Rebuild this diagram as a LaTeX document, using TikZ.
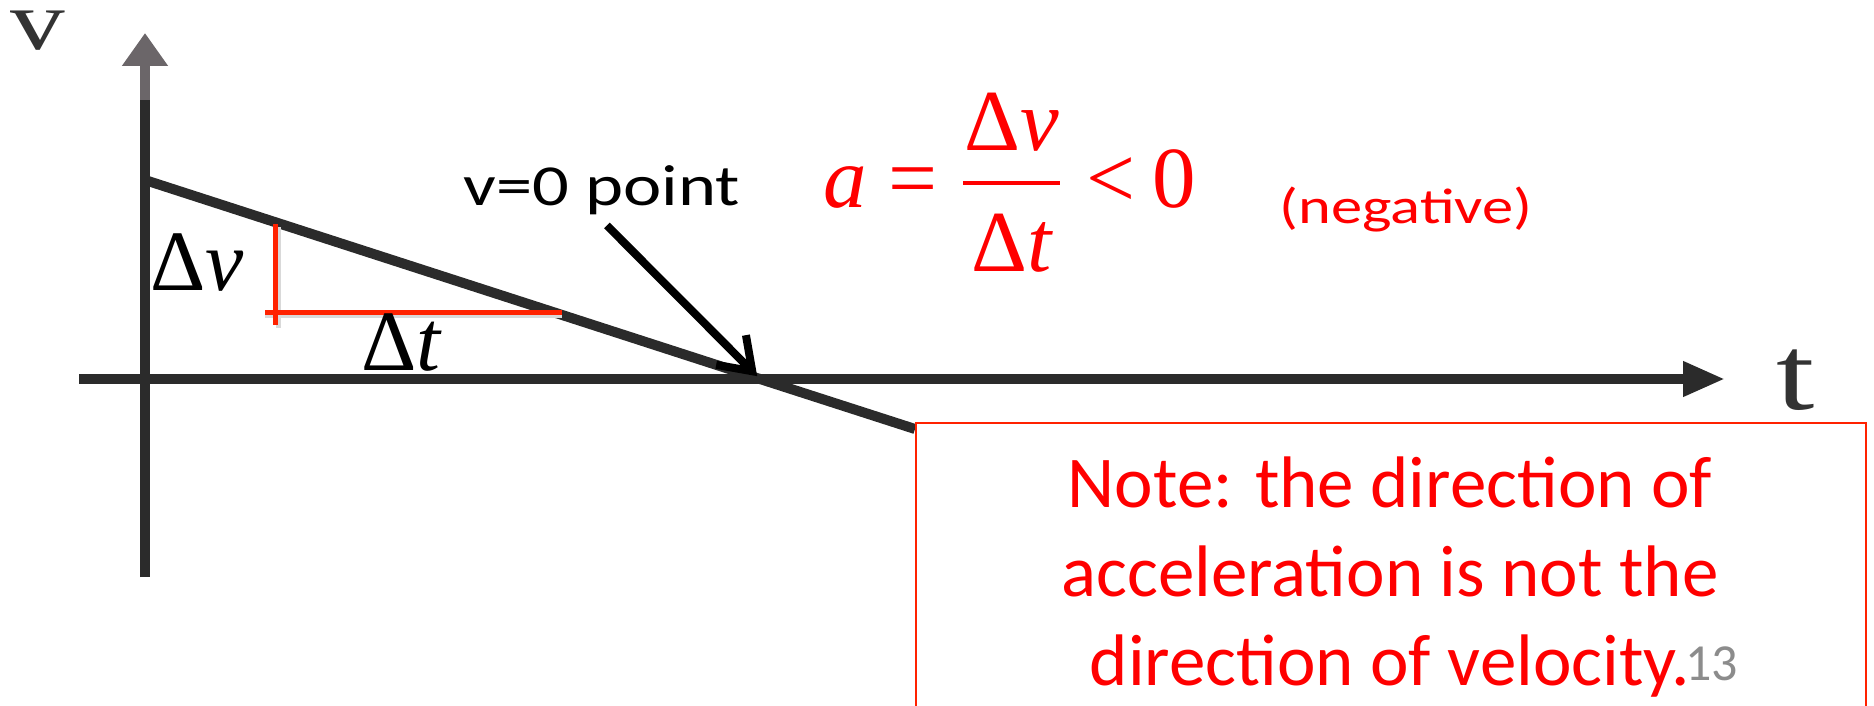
\documentclass[tikz,border=0pt]{standalone}
\usepackage{fontspec}
\setmainfont{Carlito}
\newfontfamily\tnr{Liberation Serif}
\newfontfamily\tnrwide[FakeStretch=1.3]{Liberation Serif}
\newfontfamily\calwide[FakeStretch=1.25]{Carlito}
\usetikzlibrary{arrows.meta}
\definecolor{axisgray}{HTML}{2B2B2B}
\definecolor{tipgray}{HTML}{6B6669}
\definecolor{labgray}{HTML}{333333}
\definecolor{slidered}{HTML}{FF0000}
\definecolor{linered}{HTML}{FF2200}
\definecolor{numgray}{HTML}{8C8C8C}

\begin{document}
\begin{tikzpicture}[x=1pt, y=-1pt,
  axis/.style={draw=axisgray, line width=10pt},
  redln/.style={draw=linered, line width=5pt},
  shadow/.style={draw=black!15, line width=5pt},
  ptr/.style={draw=black, line width=8pt, -{Straight Barb[length=30pt,width=42pt]}},
  lab/.style={inner sep=0pt, anchor=base},
  eqn/.style={inner sep=0pt, anchor=base west, text=slidered, font=\tnr\fontsize{87}{90}\selectfont},
  notebox/.style={draw=linered, line width=2pt, fill=white, anchor=north west},
  every node/.style={inner sep=0pt}]
\useasboundingbox (0,0) rectangle (1874,706);
\clip (0,0) rectangle (1874,706);
\coordinate (vbot) at (145,577);
\coordinate (vmid) at (145,100);
\coordinate (vtop) at (145,33);
\coordinate (tleft) at (79,379);
\coordinate (tright) at (1725,379);
\coordinate (v0) at (148,181);
\coordinate (cross) at (760,379);
\coordinate (vend) at (915,429);
\draw[axis] (vbot) -- (vmid);
\draw[draw=tipgray, line width=10pt, -{Triangle[length=33pt,width=44pt]}] (vmid) -- (vtop);
\draw[axis, -{Triangle[length=42pt,width=33pt]}] (tleft) -- (tright);
\draw[axis] (v0) -- (cross) -- (vend);
\draw[shadow] (278,227) -- (278,328);
\draw[shadow] (265,315) -- (562,315);
\draw[redln] (275,224) -- (275,325);
\draw[redln] (265,312) -- (562,312);
\node[lab, text=labgray, text height=40pt, font=\tnrwide\fontsize{84}{90}\selectfont] (vlab) at (38,50) {v};
\node[lab, text=labgray, font=\tnrwide\fontsize{106}{110}\selectfont] (tlab) at (1796,409) {t};
\node[lab, anchor=base west, font=\tnr\fontsize{86}{90}\selectfont] (dv) at (150,290) {Δ\textit{v}};
\node[lab, anchor=base west, font=\tnr\fontsize{86}{90}\selectfont] (dt) at (361,370) {Δ\textit{t}};
\node[lab, font=\calwide\fontsize{58}{64}\selectfont, inner sep=6pt] (vzero) at (602,205) {v=0 point};
\draw[ptr, shorten <=7pt, shorten >=4pt] (vzero.south) -- (cross);
\node[eqn] (acc) at (823,207) {\itshape a};
\node[eqn] (eq) at (888,207) {=};
\node[eqn, anchor=base] (num) at (1012,150) {Δ\textit{v}};
\node[eqn, anchor=base] (den) at (1012,271) {Δ\textit{t}};
\coordinate (barl) at (963,183);
\coordinate (barr) at (1060,183);
\draw[draw=slidered, line width=4pt] (barl) -- (barr);
\node[eqn] (lt) at (1086,207) {<};
\node[eqn] (zero) at (1152,207) {0};
\node[lab, text=slidered, font=\calwide\fontsize{50}{56}\selectfont] (neg) at (1406,223) {(negative)};
\node[notebox, minimum width=950pt, minimum height=340pt] (note) at (915,422) {};
\node[text=slidered, align=center, font=\fontsize{73}{89}\selectfont] (notetxt) at (1390,577)
  {Note: the direction of\\acceleration is not the\\direction of velocity.};
\node[lab, anchor=base west, text=numgray, font=\fontsize{52}{60}\selectfont] (pg) at (1685,680) {13};
\end{tikzpicture}
\end{document}
